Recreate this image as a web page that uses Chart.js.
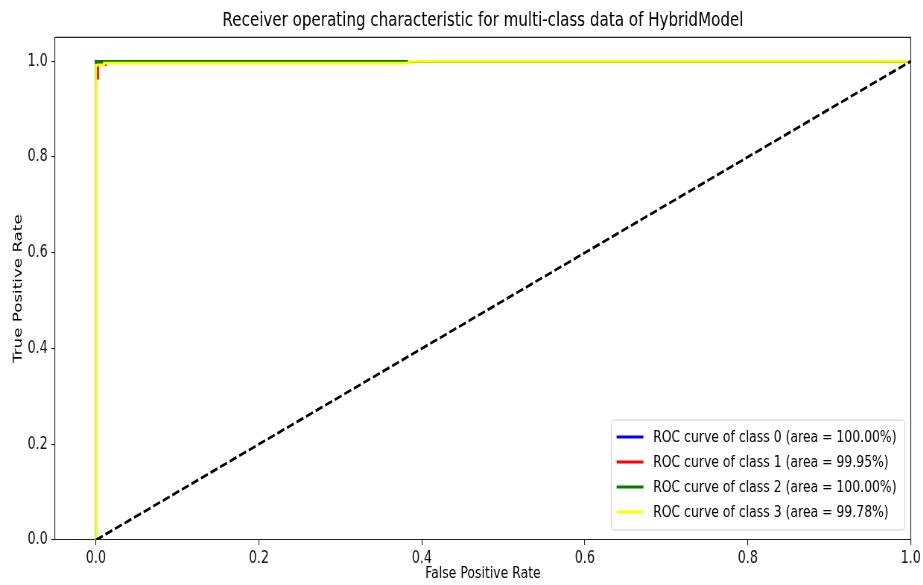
<!DOCTYPE html>
<html><head><meta charset="utf-8">
<script src="https://cdn.jsdelivr.net/npm/chart.js@4.4.0/dist/chart.umd.min.js"></script>
<style>
html,body{margin:0;padding:0;background:#fff;overflow:hidden;}
#wrap{width:923px;height:585px;overflow:hidden;position:relative;background:#fff;}
#c{position:absolute;left:0;top:0;transform:scaleX(0.745);transform-origin:0 0;}
</style></head><body>
<div id="wrap"><canvas id="c" width="1239" height="585" style="width:1239px;height:585px"></canvas></div>
<script>
// ---- data ----
const titleText = 'Receiver operating characteristic for multi-class data of HybridModel';
const xAxisLabel = 'False Positive Rate';
const yAxisLabel = 'True Positive Rate';
const seriesLabels = [
  'ROC curve of class 0 (area = 100.00%)',
  'ROC curve of class 1 (area = 99.95%)',
  'ROC curve of class 2 (area = 100.00%)',
  'ROC curve of class 3 (area = 99.78%)'
];
const seriesColors = ['#0000ff', '#ff0000', '#008000', '#ffff00'];
const class0Fpr = [0, 0, 1];
const class0Tpr = [0, 1, 1];
const class1Fpr = [0, 0, 0.0025, 0.0025, 0.012, 0.012, 1];
const class1Tpr = [0, 0.965, 0.965, 0.993, 0.993, 1, 1];
const class2Fpr = [0, 0, 1];
const class2Tpr = [0, 1, 1];
const class3Fpr = [0, 0, 0.01, 0.01, 0.384, 0.384, 1];
const class3Tpr = [0, 0.992, 0.992, 0.996, 0.996, 1, 1];
const diagFpr = [0, 1];
const diagTpr = [0, 1];
const xTickValues = [0, 0.2, 0.4, 0.6, 0.8, 1.0];
const yTickValues = [0, 0.2, 0.4, 0.6, 0.8, 1.0];

// ---- build ----
const FAMILY = '"DejaVu Sans", sans-serif';
const zip = (xs, ys) => xs.map((x, i) => ({x: x, y: ys[i]}));
const fprs = [class0Fpr, class1Fpr, class2Fpr, class3Fpr];
const tprs = [class0Tpr, class1Tpr, class2Tpr, class3Tpr];
const LW = 2.8;
const datasets = seriesLabels.map((lab, i) => ({
  label: lab,
  data: zip(fprs[i], tprs[i]),
  borderColor: seriesColors[i],
  backgroundColor: seriesColors[i],
  borderWidth: LW,
  showLine: true,
  pointRadius: 0,
  pointHoverRadius: 0,
  fill: false,
  tension: 0,
  order: 4 - i
}));
datasets.push({
  label: '_diag',
  data: zip(diagFpr, diagTpr),
  borderColor: '#000000',
  borderWidth: LW,
  borderDash: [10, 4],
  showLine: true,
  pointRadius: 0,
  fill: false,
  order: 0
});

const framePlugin = {
  id: 'frame',
  afterDatasetsDraw(chart) {
    const a = chart.chartArea, ctx = chart.ctx;
    ctx.save();
    ctx.strokeStyle = '#222';
    ctx.lineWidth = 1.1;
    ctx.beginPath();
    ctx.moveTo(a.left, a.top); ctx.lineTo(a.right, a.top); ctx.lineTo(a.right, a.bottom);
    ctx.stroke();
    ctx.restore();
  }
};

const legendPlugin = {
  id: 'boxLegend',
  afterDraw(chart) {
    const a = chart.chartArea, ctx = chart.ctx;
    const items = chart.data.datasets.filter(d => !d.label.startsWith('_'));
    ctx.save();
    ctx.font = '16.7px ' + FAMILY;
    let maxW = 0;
    items.forEach(d => { maxW = Math.max(maxW, ctx.measureText(d.label).width); });
    const padL = 7, handle = 36, gap = 13, padR = 11;
    const rowH = 25, padT = 17, padB = 18;
    const w = padL + handle + gap + maxW + padR;
    const h = padT + rowH * (items.length - 1) + padB;
    const right = a.right - 8, bottom = a.bottom - 10;
    const left = right - w, top = bottom - h;
    ctx.beginPath();
    ctx.roundRect(left, top, w, h, 4);
    ctx.fillStyle = 'rgba(255,255,255,0.85)';
    ctx.fill();
    ctx.strokeStyle = '#cccccc';
    ctx.lineWidth = 1;
    ctx.stroke();
    items.forEach((d, i) => {
      const cy = top + padT + i * rowH;
      ctx.strokeStyle = d.borderColor;
      ctx.lineWidth = LW;
      ctx.beginPath();
      ctx.moveTo(left + padL, cy);
      ctx.lineTo(left + padL + handle, cy);
      ctx.stroke();
      ctx.fillStyle = '#000';
      ctx.textBaseline = 'middle';
      ctx.textAlign = 'left';
      ctx.fillText(d.label, left + padL + handle + gap, cy + 1);
    });
    ctx.restore();
  }
};

const tickFont = {family: FAMILY, size: 17};
const labelFont = {family: FAMILY, size: 16.7};

new Chart(document.getElementById('c').getContext('2d'), {
  type: 'scatter',
  data: {datasets: datasets},
  options: {
    responsive: false,
    animation: false,
    devicePixelRatio: 1,
    events: [],
    layout: {padding: {left: 0, right: 16, top: 0, bottom: 0}},
    plugins: {
      legend: {display: false},
      tooltip: {enabled: false},
      title: {
        display: true, text: titleText, fullSize: false,
        font: {family: FAMILY, size: 20.3, weight: 'normal'},
        color: '#000', padding: {top: 9, bottom: 4}
      }
    },
    scales: {
      x: {
        type: 'linear', min: -0.05, max: 1.0,
        afterBuildTicks: s => { s.ticks = xTickValues.map(v => ({value: v})); },
        afterFit: s => { s.height = 45; },
        ticks: {callback: v => Number(v).toFixed(1), font: tickFont, color: '#111', padding: 3, maxRotation: 0, autoSkip: false},
        grid: {drawOnChartArea: false, drawTicks: true, tickLength: 5, color: '#222', lineWidth: 1.1},
        border: {display: true, color: '#222', width: 1.1},
        title: {display: true, text: xAxisLabel, font: labelFont, color: '#000', padding: {top: 0, bottom: 1}}
      },
      y: {
        type: 'linear', min: 0, max: 1.05,
        afterBuildTicks: s => { s.ticks = yTickValues.map(v => ({value: v})); },
        afterFit: s => { s.width = 74; },
        ticks: {callback: v => Number(v).toFixed(1), font: tickFont, color: '#111', padding: 5, autoSkip: false},
        grid: {drawOnChartArea: false, drawTicks: true, tickLength: 5, color: '#222', lineWidth: 1.1},
        border: {display: true, color: '#222', width: 1.1},
        title: {display: true, text: yAxisLabel, font: labelFont, color: '#000', padding: {top: 14.6, bottom: 0}}
      }
    }
  },
  plugins: [framePlugin, legendPlugin]
});
</script>
</body></html>
